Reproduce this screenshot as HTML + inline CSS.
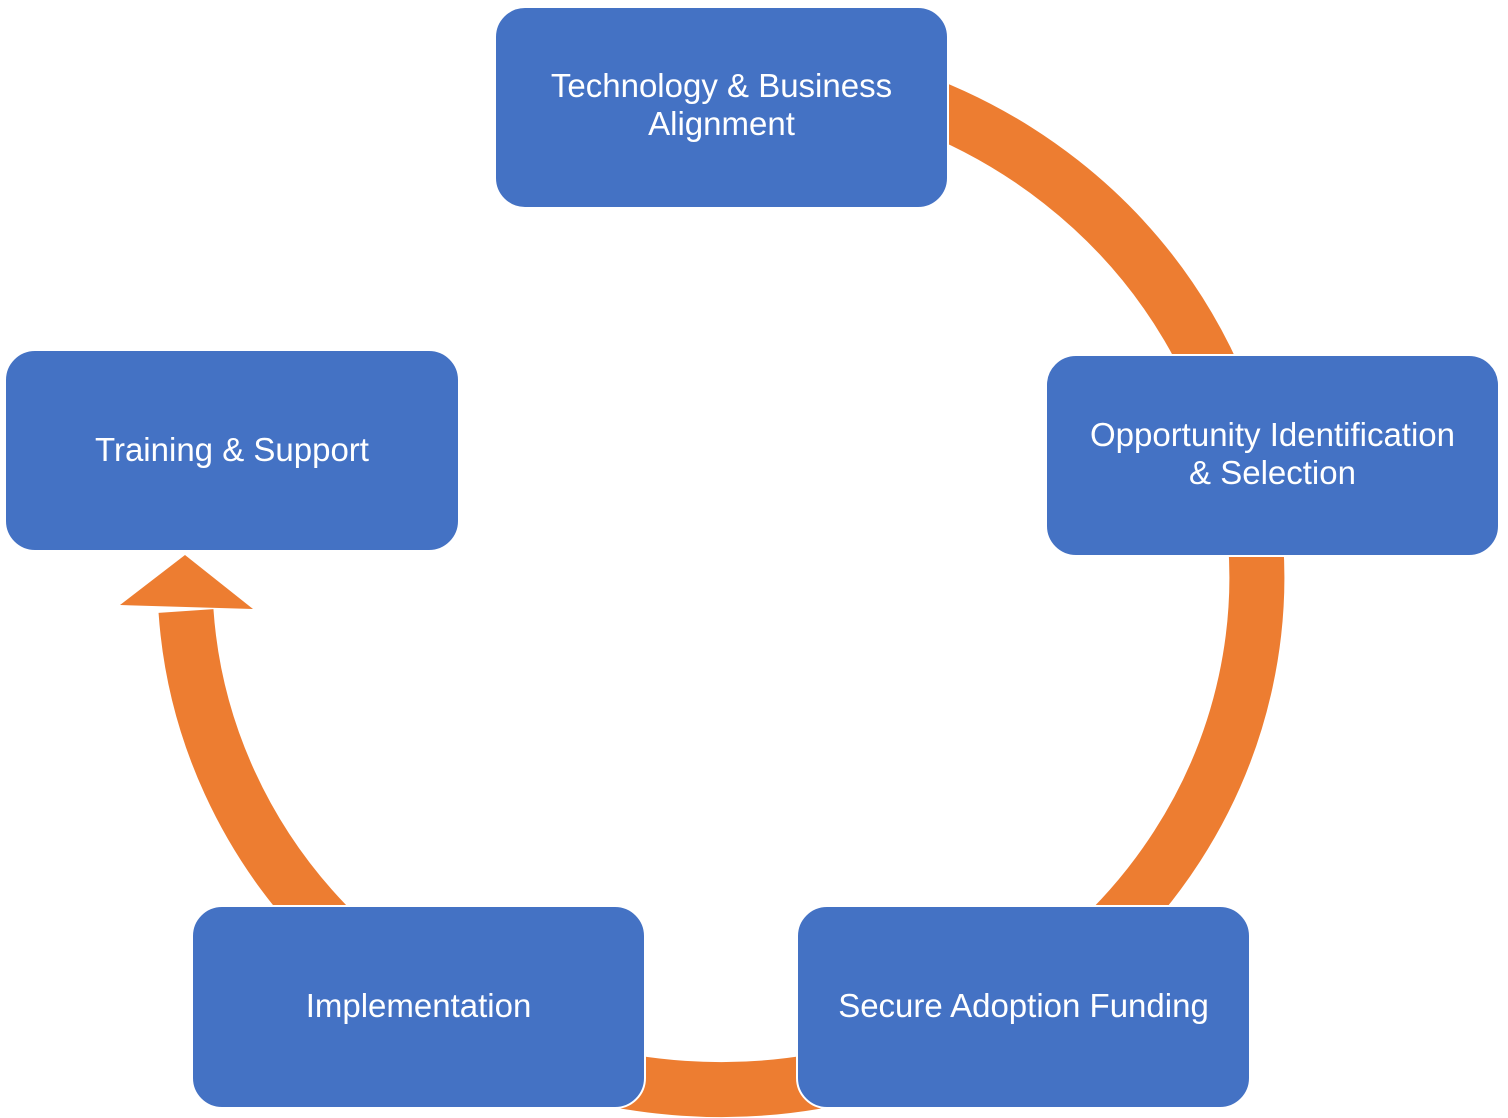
<!DOCTYPE html>
<html><head><meta charset="utf-8"><style>
html,body{margin:0;padding:0;background:#fff;}
body{width:1508px;height:1118px;position:relative;overflow:hidden;font-family:"Liberation Sans",sans-serif;}
.t{position:absolute;color:#fff;font-size:33px;text-align:center;line-height:38px;white-space:nowrap;}
</style></head><body>
<svg width="1508" height="1118" style="position:absolute;left:0;top:0">
<path d="M 900 95 A 536 512 0 1 1 186 611" fill="none" stroke="#ED7D31" stroke-width="55"/>
<polygon points="120,605 185,555 253,609" fill="#ED7D31"/>
<g fill="#4472C4" stroke="#fff" stroke-width="2">
<rect x="495" y="7" width="453" height="201" rx="30"/>
<rect x="1046" y="355" width="453" height="201" rx="30"/>
<rect x="5" y="350" width="454" height="201" rx="30"/>
<rect x="192" y="906" width="453" height="202" rx="30"/>
<rect x="797" y="906" width="453" height="202" rx="30"/>
</g>
</svg>
<div class="t" style="left:495px;width:453px;top:67px">Technology &amp; Business<br>Alignment</div>
<div class="t" style="left:1046px;width:453px;top:416px">Opportunity Identification<br>&amp; Selection</div>
<div class="t" style="left:5px;width:454px;top:431px">Training &amp; Support</div>
<div class="t" style="left:192px;width:453px;top:987px">Implementation</div>
<div class="t" style="left:797px;width:453px;top:987px">Secure Adoption Funding</div>
</body></html>
